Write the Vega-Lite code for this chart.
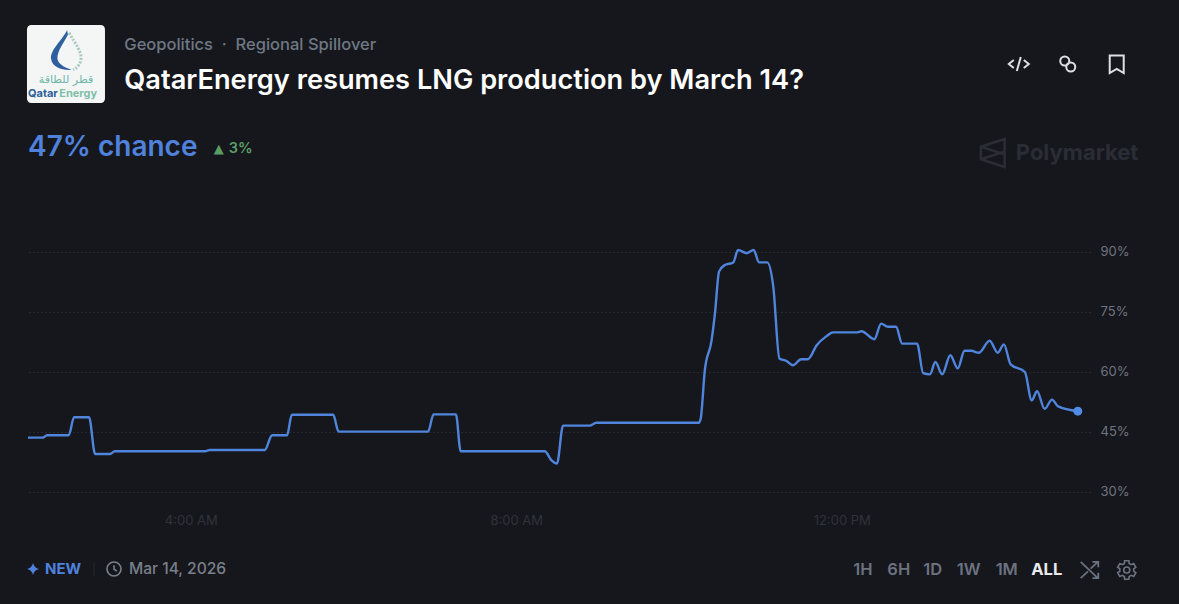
{"$schema":"https://vega.github.io/schema/vega-lite/v6.json","background":"#16171c","autosize":{"type":"none"},"padding":{"left":28,"top":232,"right":89,"bottom":92},"width":1062,"height":280,"config":{"view":{"stroke":null},"font":"Inter"},"datasets":{"prob":[{"t":"2026-03-14T02:00:00Z","p":43.6},{"t":"2026-03-14T02:11:00Z","p":43.6},{"t":"2026-03-14T02:14:00Z","p":44.2},{"t":"2026-03-14T02:30:00Z","p":44.2},{"t":"2026-03-14T02:34:00Z","p":48.7},{"t":"2026-03-14T02:45:00Z","p":48.7},{"t":"2026-03-14T02:49:30Z","p":39.5},{"t":"2026-03-14T03:00:30Z","p":39.5},{"t":"2026-03-14T03:04:00Z","p":40.2},{"t":"2026-03-14T04:10:30Z","p":40.2},{"t":"2026-03-14T04:14:00Z","p":40.5},{"t":"2026-03-14T04:54:30Z","p":40.5},{"t":"2026-03-14T05:00:00Z","p":44.2},{"t":"2026-03-14T05:11:00Z","p":44.2},{"t":"2026-03-14T05:14:30Z","p":49.3},{"t":"2026-03-14T05:45:00Z","p":49.3},{"t":"2026-03-14T05:49:00Z","p":45.1},{"t":"2026-03-14T06:55:00Z","p":45.1},{"t":"2026-03-14T06:59:00Z","p":49.4},{"t":"2026-03-14T07:15:30Z","p":49.4},{"t":"2026-03-14T07:19:00Z","p":40.2},{"t":"2026-03-14T08:21:00Z","p":40.2},{"t":"2026-03-14T08:26:00Z","p":37.9},{"t":"2026-03-14T08:30:00Z","p":37.1},{"t":"2026-03-14T08:34:30Z","p":46.6},{"t":"2026-03-14T08:54:00Z","p":46.6},{"t":"2026-03-14T08:59:00Z","p":47.3},{"t":"2026-03-14T10:14:30Z","p":47.3},{"t":"2026-03-14T10:16:00Z","p":48.4},{"t":"2026-03-14T10:19:00Z","p":60.4},{"t":"2026-03-14T10:24:00Z","p":67.9},{"t":"2026-03-14T10:26:30Z","p":74.7},{"t":"2026-03-14T10:29:30Z","p":85.1},{"t":"2026-03-14T10:33:30Z","p":86.7},{"t":"2026-03-14T10:40:00Z","p":87.4},{"t":"2026-03-14T10:43:30Z","p":90.5},{"t":"2026-03-14T10:50:00Z","p":89.7},{"t":"2026-03-14T10:55:00Z","p":90.5},{"t":"2026-03-14T10:59:00Z","p":87.4},{"t":"2026-03-14T11:05:00Z","p":87.4},{"t":"2026-03-14T11:09:30Z","p":81.3},{"t":"2026-03-14T11:14:00Z","p":63.4},{"t":"2026-03-14T11:19:00Z","p":62.8},{"t":"2026-03-14T11:24:00Z","p":61.7},{"t":"2026-03-14T11:30:00Z","p":63.2},{"t":"2026-03-14T11:35:00Z","p":63.2},{"t":"2026-03-14T11:41:30Z","p":66.7},{"t":"2026-03-14T11:48:30Z","p":68.9},{"t":"2026-03-14T11:53:30Z","p":69.9},{"t":"2026-03-14T12:11:00Z","p":69.9},{"t":"2026-03-14T12:14:30Z","p":70.2},{"t":"2026-03-14T12:24:00Z","p":68.2},{"t":"2026-03-14T12:29:00Z","p":72.1},{"t":"2026-03-14T12:34:00Z","p":71.3},{"t":"2026-03-14T12:40:00Z","p":71.3},{"t":"2026-03-14T12:44:30Z","p":67.1},{"t":"2026-03-14T12:55:30Z","p":67.1},{"t":"2026-03-14T13:00:00Z","p":59.7},{"t":"2026-03-14T13:05:00Z","p":59.4},{"t":"2026-03-14T13:09:00Z","p":62.5},{"t":"2026-03-14T13:14:00Z","p":59.4},{"t":"2026-03-14T13:20:00Z","p":64.2},{"t":"2026-03-14T13:25:30Z","p":60.9},{"t":"2026-03-14T13:30:30Z","p":65.3},{"t":"2026-03-14T13:35:30Z","p":65.3},{"t":"2026-03-14T13:41:00Z","p":64.8},{"t":"2026-03-14T13:49:00Z","p":67.8},{"t":"2026-03-14T13:55:00Z","p":64.8},{"t":"2026-03-14T13:59:30Z","p":66.9},{"t":"2026-03-14T14:04:30Z","p":61.9},{"t":"2026-03-14T14:15:00Z","p":60},{"t":"2026-03-14T14:20:00Z","p":52.9},{"t":"2026-03-14T14:24:00Z","p":55.2},{"t":"2026-03-14T14:29:30Z","p":50.8},{"t":"2026-03-14T14:35:00Z","p":53.1},{"t":"2026-03-14T14:39:30Z","p":51.4},{"t":"2026-03-14T14:54:00Z","p":50.2}]},"layer":[{"data":{"name":"prob"},"mark":{"type":"line","color":"#4f85dc","strokeWidth":2.4,"interpolate":"monotone","strokeJoin":"round"},"encoding":{"x":{"field":"t","type":"temporal","scale":{"type":"utc","domain":[{"year":2026,"month":3,"date":14,"hours":2,"utc":true},{"year":2026,"month":3,"date":14,"hours":15,"minutes":3,"utc":true}]},"axis":{"title":null,"grid":false,"domain":false,"ticks":false,"values":[{"year":2026,"month":3,"date":14,"hours":4,"utc":true},{"year":2026,"month":3,"date":14,"hours":8,"utc":true},{"year":2026,"month":3,"date":14,"hours":12,"utc":true}],"format":"%-I:%M %p","labelFont":"Inter","labelFontSize":13,"labelColor":"#2f333b","labelPadding":2}},"y":{"field":"p","type":"quantitative","scale":{"domain":[25,95],"nice":false,"zero":false},"axis":{"title":null,"orient":"right","domain":false,"ticks":false,"values":[30,45,60,75,90],"labelExpr":"datum.value + '%'","labelFont":"Inter","labelFontSize":13,"labelColor":"#6f7580","labelPadding":10,"labelOffset":-1,"grid":true,"gridColor":"#3a3d44","gridDash":[1,3],"gridWidth":1}}}},{"data":{"name":"prob"},"transform":[{"filter":"datum.p == 50.2"}],"mark":{"type":"circle","size":80,"color":"#4f8ce8","opacity":1},"encoding":{"x":{"field":"t","type":"temporal"},"y":{"field":"p","type":"quantitative"}}},{"data":{"values":[{"label":"QatarEnergy resumes LNG production by March 14?"}]},"mark":{"type":"text","align":"left","baseline":"middle","fontSize":27.2,"fontWeight":600,"color":"#ffffff"},"encoding":{"x":{"datum":{"year":2026,"month":3,"date":14,"hours":3,"minutes":11,"utc":true},"type":"temporal"},"y":{"datum":132.75,"type":"quantitative"},"text":{"field":"label"}}},{"data":{"values":[{"label":"Geopolitics\u00a0\u00a0·\u00a0\u00a0Regional Spillover"}]},"mark":{"type":"text","align":"left","baseline":"middle","fontSize":16.5,"fontWeight":500,"color":"#6f7784"},"encoding":{"x":{"datum":{"year":2026,"month":3,"date":14,"hours":3,"minutes":11,"utc":true},"type":"temporal"},"y":{"datum":141.75,"type":"quantitative"},"text":{"field":"label"}}},{"data":{"values":[{"label":"47% chance"}]},"mark":{"type":"text","align":"left","baseline":"middle","fontSize":28,"fontWeight":600,"color":"#4f82dd"},"encoding":{"x":{"datum":{"year":2026,"month":3,"date":14,"hours":2,"utc":true},"type":"temporal"},"y":{"datum":116,"type":"quantitative"},"text":{"field":"label"}}},{"data":{"values":[{"label":"▲"}]},"mark":{"type":"text","align":"left","baseline":"middle","fontSize":13,"font":"DejaVu Sans","color":"#5a9e66"},"encoding":{"x":{"datum":{"year":2026,"month":3,"date":14,"hours":4,"minutes":17,"utc":true},"type":"temporal"},"y":{"datum":115.75,"type":"quantitative"},"text":{"field":"label"}}},{"data":{"values":[{"label":"3%"}]},"mark":{"type":"text","align":"left","baseline":"middle","fontSize":14.5,"fontWeight":600,"color":"#5a9e66"},"encoding":{"x":{"datum":{"year":2026,"month":3,"date":14,"hours":4,"minutes":28,"utc":true},"type":"temporal"},"y":{"datum":115.75,"type":"quantitative"},"text":{"field":"label"}}},{"data":{"values":[{"label":"Polymarket"}]},"mark":{"type":"text","align":"left","baseline":"middle","fontSize":22,"fontWeight":700,"color":"#2a2d35"},"encoding":{"x":{"datum":{"year":2026,"month":3,"date":14,"hours":14,"minutes":8,"seconds":18,"utc":true},"type":"temporal"},"y":{"datum":114.75,"type":"quantitative"},"text":{"field":"label"}}},{"data":{"values":[{"icon":"polymarket"}]},"mark":{"type":"point","shape":"M0.85,-1 L-0.85,-0.45 L-0.85,0.45 L0.85,1 Z M-0.85,-0.45 L0.85,0.1 M-0.85,0.45 L0.85,-0.1","size":784,"strokeWidth":2.5,"color":"#2a2d35","opacity":1},"encoding":{"x":{"datum":{"year":2026,"month":3,"date":14,"hours":13,"minutes":51,"seconds":18,"utc":true},"type":"temporal"},"y":{"datum":114.75,"type":"quantitative"}}},{"data":{"values":[{"icon":"logo"}]},"mark":{"type":"point","filled":true,"shape":"M-0.88,-1 L0.88,-1 Q1,-1 1,-0.88 L1,0.88 Q1,1 0.88,1 L-0.88,1 Q-1,1 -1,0.88 L-1,-0.88 Q-1,-1 -0.88,-1 Z","size":6084,"color":"#f4f6f6","opacity":1},"encoding":{"x":{"datum":{"year":2026,"month":3,"date":14,"hours":2,"minutes":28,"utc":true},"type":"temporal"},"y":{"datum":137,"type":"quantitative"}}},{"data":{"values":[{"icon":"drop"}]},"mark":{"type":"point","filled":true,"shape":"M0.03,-0.87 C-0.1,-0.6 -0.42,-0.35 -0.38,-0.12 C-0.35,0.08 -0.1,0.17 0.15,0.15 C-0.05,0.08 -0.22,-0.02 -0.22,-0.15 C-0.22,-0.35 -0.02,-0.6 0.05,-0.75 Z","size":6084,"color":"#2f5f9f","opacity":1},"encoding":{"x":{"datum":{"year":2026,"month":3,"date":14,"hours":2,"minutes":28,"utc":true},"type":"temporal"},"y":{"datum":137,"type":"quantitative"}}},{"data":{"values":[{"icon":"dots"}]},"mark":{"type":"point","shape":"M0.08,-0.8 C0.25,-0.5 0.42,-0.3 0.38,-0.1 C0.35,0.05 0.25,0.12 0.18,0.15","size":6084,"strokeWidth":3,"strokeDash":[2,1.5],"color":"#a9c9c0","opacity":1},"encoding":{"x":{"datum":{"year":2026,"month":3,"date":14,"hours":2,"minutes":28,"utc":true},"type":"temporal"},"y":{"datum":137,"type":"quantitative"}}},{"data":{"values":[{"label":"قطر للطاقة"}]},"mark":{"type":"text","align":"center","baseline":"middle","fontSize":11,"font":"DejaVu Sans","color":"#6fb7a7"},"encoding":{"x":{"datum":{"year":2026,"month":3,"date":14,"hours":2,"minutes":28,"utc":true},"type":"temporal"},"y":{"datum":133,"type":"quantitative"},"text":{"field":"label"}}},{"data":{"values":[{"label":"Qatar"}]},"mark":{"type":"text","align":"right","baseline":"middle","fontSize":11,"fontWeight":700,"color":"#2e5f98"},"encoding":{"x":{"datum":{"year":2026,"month":3,"date":14,"hours":2,"minutes":22,"utc":true},"type":"temporal"},"y":{"datum":129.5,"type":"quantitative"},"text":{"field":"label"}}},{"data":{"values":[{"label":"Energy"}]},"mark":{"type":"text","align":"left","baseline":"middle","fontSize":11,"fontWeight":700,"color":"#7fc0a8"},"encoding":{"x":{"datum":{"year":2026,"month":3,"date":14,"hours":2,"minutes":23,"utc":true},"type":"temporal"},"y":{"datum":129.5,"type":"quantitative"},"text":{"field":"label"}}},{"data":{"values":[{"icon":"code"}]},"mark":{"type":"point","shape":"M-0.5,-0.4 L-1,0 L-0.5,0.4 M0.5,-0.4 L1,0 L0.5,0.4 M0.2,-0.7 L-0.2,0.7","size":400,"strokeWidth":2,"color":"#dcdfe3","opacity":1},"encoding":{"x":{"datum":{"year":2026,"month":3,"date":14,"hours":14,"minutes":10,"seconds":30,"utc":true},"type":"temporal"},"y":{"datum":137,"type":"quantitative"}}},{"data":{"values":[{"icon":"link"}]},"mark":{"type":"point","shape":"M-0.75,-0.3 A0.45,0.45 0 1 1 0.15,-0.3 A0.45,0.45 0 1 1 -0.75,-0.3 M-0.15,0.3 A0.45,0.45 0 1 1 0.75,0.3 A0.45,0.45 0 1 1 -0.15,0.3","size":400,"strokeWidth":2,"color":"#dcdfe3","opacity":1},"encoding":{"x":{"datum":{"year":2026,"month":3,"date":14,"hours":14,"minutes":46,"seconds":36,"utc":true},"type":"temporal"},"y":{"datum":137,"type":"quantitative"}}},{"data":{"values":[{"icon":"bookmark"}]},"mark":{"type":"point","shape":"M-0.7,-0.85 L0.7,-0.85 L0.7,0.9 L0,0.5 L-0.7,0.9 Z","size":400,"strokeWidth":2,"color":"#dcdfe3","opacity":1},"encoding":{"x":{"datum":{"year":2026,"month":3,"date":14,"hours":15,"minutes":22,"seconds":42,"utc":true},"type":"temporal"},"y":{"datum":137,"type":"quantitative"}}},{"data":{"values":[{"icon":"star"}]},"mark":{"type":"point","filled":true,"shape":"M0,-1 Q0.2,-0.2 1,0 Q0.2,0.2 0,1 Q-0.2,0.2 -1,0 Q-0.2,-0.2 0,-1 Z","size":144,"color":"#4f82dd","opacity":1},"encoding":{"x":{"datum":{"year":2026,"month":3,"date":14,"hours":2,"minutes":3,"seconds":42,"utc":true},"type":"temporal"},"y":{"datum":10.75,"type":"quantitative"}}},{"data":{"values":[{"label":"NEW"}]},"mark":{"type":"text","align":"left","baseline":"middle","fontSize":15,"fontWeight":700,"color":"#4f82dd"},"encoding":{"x":{"datum":{"year":2026,"month":3,"date":14,"hours":2,"minutes":12,"seconds":30,"utc":true},"type":"temporal"},"y":{"datum":10.75,"type":"quantitative"},"text":{"field":"label"}}},{"data":{"values":[{"icon":"separator"}]},"mark":{"type":"point","shape":"M0,-1 L0,1","size":196,"strokeWidth":1,"color":"#262a31","opacity":1},"encoding":{"x":{"datum":{"year":2026,"month":3,"date":14,"hours":2,"minutes":48,"seconds":36,"utc":true},"type":"temporal"},"y":{"datum":10.75,"type":"quantitative"}}},{"data":{"values":[{"icon":"clock"}]},"mark":{"type":"point","shape":"M-1,0 A1,1 0 1 1 1,0 A1,1 0 1 1 -1,0 M0,-0.55 L0,0 L0.4,0.3","size":196,"strokeWidth":1.6,"color":"#7a808a","opacity":1},"encoding":{"x":{"datum":{"year":2026,"month":3,"date":14,"hours":3,"minutes":3,"seconds":24,"utc":true},"type":"temporal"},"y":{"datum":10.75,"type":"quantitative"}}},{"data":{"values":[{"label":"Mar 14, 2026"}]},"mark":{"type":"text","align":"left","baseline":"middle","fontSize":15.6,"fontWeight":500,"color":"#7a808a"},"encoding":{"x":{"datum":{"year":2026,"month":3,"date":14,"hours":3,"minutes":14,"seconds":24,"utc":true},"type":"temporal"},"y":{"datum":10.75,"type":"quantitative"},"text":{"field":"label"}}},{"data":{"values":[{"label":"1H"}]},"mark":{"type":"text","align":"center","baseline":"middle","fontSize":16.5,"fontWeight":600,"color":"#6b7280"},"encoding":{"x":{"datum":{"year":2026,"month":3,"date":14,"hours":12,"minutes":15,"seconds":30,"utc":true},"type":"temporal"},"y":{"datum":10.5,"type":"quantitative"},"text":{"field":"label"}}},{"data":{"values":[{"label":"6H"}]},"mark":{"type":"text","align":"center","baseline":"middle","fontSize":16.5,"fontWeight":600,"color":"#6b7280"},"encoding":{"x":{"datum":{"year":2026,"month":3,"date":14,"hours":12,"minutes":42,"utc":true},"type":"temporal"},"y":{"datum":10.5,"type":"quantitative"},"text":{"field":"label"}}},{"data":{"values":[{"label":"1D"}]},"mark":{"type":"text","align":"center","baseline":"middle","fontSize":16.5,"fontWeight":600,"color":"#6b7280"},"encoding":{"x":{"datum":{"year":2026,"month":3,"date":14,"hours":13,"minutes":7,"seconds":6,"utc":true},"type":"temporal"},"y":{"datum":10.5,"type":"quantitative"},"text":{"field":"label"}}},{"data":{"values":[{"label":"1W"}]},"mark":{"type":"text","align":"center","baseline":"middle","fontSize":16.5,"fontWeight":600,"color":"#6b7280"},"encoding":{"x":{"datum":{"year":2026,"month":3,"date":14,"hours":13,"minutes":33,"seconds":36,"utc":true},"type":"temporal"},"y":{"datum":10.5,"type":"quantitative"},"text":{"field":"label"}}},{"data":{"values":[{"label":"1M"}]},"mark":{"type":"text","align":"center","baseline":"middle","fontSize":16.5,"fontWeight":600,"color":"#6b7280"},"encoding":{"x":{"datum":{"year":2026,"month":3,"date":14,"hours":14,"minutes":1,"seconds":36,"utc":true},"type":"temporal"},"y":{"datum":10.5,"type":"quantitative"},"text":{"field":"label"}}},{"data":{"values":[{"label":"ALL"}]},"mark":{"type":"text","align":"center","baseline":"middle","fontSize":16.5,"fontWeight":700,"color":"#e8eaed"},"encoding":{"x":{"datum":{"year":2026,"month":3,"date":14,"hours":14,"minutes":31,"seconds":6,"utc":true},"type":"temporal"},"y":{"datum":10.5,"type":"quantitative"},"text":{"field":"label"}}},{"data":{"values":[{"icon":"shuffle"}]},"mark":{"type":"point","shape":"M-1,-0.9 L0.9,0.9 M-1,0.9 L-0.2,0.15 M0.1,-0.15 L0.9,-0.9 M0.3,-0.9 L0.95,-0.9 L0.95,-0.3 M0.3,0.9 L0.95,0.9 L0.95,0.3","size":324,"strokeWidth":1.8,"color":"#6b7280","opacity":1},"encoding":{"x":{"datum":{"year":2026,"month":3,"date":14,"hours":15,"minutes":2,"seconds":48,"utc":true},"type":"temporal"},"y":{"datum":10.5,"type":"quantitative"}}},{"data":{"values":[{"icon":"gear"}]},"mark":{"type":"point","shape":"M-0.225,-0.974 L0.225,-0.974 L0.253,-0.695 L0.476,-0.567 L0.731,-0.682 L0.956,-0.292 L0.729,-0.128 L0.729,0.128 L0.956,0.292 L0.731,0.682 L0.476,0.567 L0.253,0.695 L0.225,0.974 L-0.225,0.974 L-0.253,0.695 L-0.476,0.567 L-0.731,0.682 L-0.956,0.292 L-0.729,0.128 L-0.729,-0.128 L-0.956,-0.292 L-0.731,-0.682 L-0.476,-0.567 L-0.253,-0.695 Z M-0.32,0 A0.32,0.32 0 1 1 0.32,0 A0.32,0.32 0 1 1 -0.32,0","size":361,"strokeWidth":1.6,"color":"#6b7280","opacity":1},"encoding":{"x":{"datum":{"year":2026,"month":3,"date":14,"hours":15,"minutes":30,"seconds":6,"utc":true},"type":"temporal"},"y":{"datum":10.5,"type":"quantitative"}}}]}
